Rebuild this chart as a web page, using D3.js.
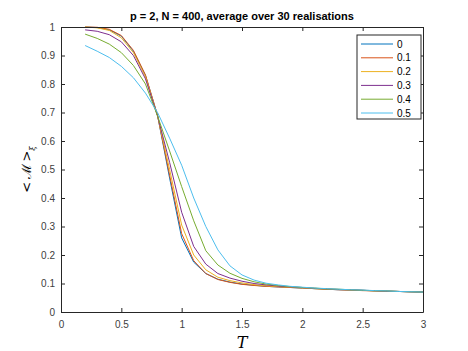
<!DOCTYPE html>
<html>
<head>
<meta charset="utf-8">
<script src="https://cdn.jsdelivr.net/npm/d3@7"></script>
<style>
  body { margin: 0; background: #fff; }
  text { font-family: "Liberation Sans", Arial, sans-serif; }
</style>
</head>
<body>
<div id="chart"></div>
<script>
// temperatures and averaged order parameter, one array per disorder level
var temps = [0.2, 0.3, 0.4, 0.5, 0.6, 0.7, 0.8, 0.9, 1.0, 1.1, 1.2, 1.3, 1.4, 1.5, 1.6, 1.7, 1.8, 1.9, 2.0, 2.1, 2.2, 2.3, 2.4, 2.5, 2.6, 2.7, 2.8, 2.9, 3.0]
var m00 = [1.000, 0.998, 0.990, 0.968, 0.915, 0.830, 0.690, 0.470, 0.260, 0.175, 0.135, 0.115, 0.105, 0.098, 0.094, 0.090, 0.088, 0.086, 0.084, 0.082, 0.080, 0.078, 0.077, 0.076, 0.074, 0.073, 0.072, 0.071, 0.070]
var m01 = [1.000, 0.999, 0.992, 0.970, 0.918, 0.832, 0.690, 0.480, 0.275, 0.180, 0.135, 0.114, 0.104, 0.097, 0.093, 0.090, 0.088, 0.086, 0.084, 0.082, 0.080, 0.078, 0.077, 0.075, 0.074, 0.073, 0.072, 0.071, 0.070]
var m02 = [1.000, 0.997, 0.988, 0.962, 0.910, 0.825, 0.688, 0.500, 0.305, 0.200, 0.148, 0.122, 0.110, 0.102, 0.096, 0.092, 0.089, 0.087, 0.085, 0.082, 0.080, 0.079, 0.077, 0.076, 0.074, 0.073, 0.072, 0.071, 0.070]
var m03 = [0.990, 0.985, 0.973, 0.948, 0.900, 0.818, 0.688, 0.525, 0.350, 0.230, 0.168, 0.135, 0.119, 0.108, 0.100, 0.095, 0.091, 0.088, 0.086, 0.083, 0.081, 0.079, 0.078, 0.076, 0.075, 0.073, 0.072, 0.071, 0.070]
var m04 = [0.975, 0.960, 0.940, 0.910, 0.865, 0.800, 0.688, 0.565, 0.440, 0.320, 0.215, 0.165, 0.136, 0.118, 0.106, 0.098, 0.093, 0.089, 0.086, 0.084, 0.081, 0.080, 0.078, 0.076, 0.075, 0.074, 0.072, 0.071, 0.070]
var m05 = [0.935, 0.915, 0.893, 0.862, 0.822, 0.768, 0.700, 0.610, 0.515, 0.400, 0.300, 0.218, 0.162, 0.130, 0.112, 0.101, 0.095, 0.090, 0.087, 0.084, 0.082, 0.080, 0.078, 0.077, 0.075, 0.074, 0.072, 0.071, 0.070]

var seriesNames = ["0", "0.1", "0.2", "0.3", "0.4", "0.5"]
var seriesValues = [m00, m01, m02, m03, m04, m05]
var colors = ["#0072BD", "#D95319", "#EDB120", "#7E2F8E", "#77AC30", "#4DBEEE"]

var xTicks = [0, 0.5, 1, 1.5, 2, 2.5, 3]
var yTicks = [0, 0.1, 0.2, 0.3, 0.4, 0.5, 0.6, 0.7, 0.8, 0.9, 1]

var W = 468, H = 351
var margin = { top: 27, right: 45, bottom: 39, left: 61 },
    width = W - margin.left - margin.right,
    height = H - margin.top - margin.bottom

var svg = d3.select("#chart")
    .append("svg")
    .attr("width", W)
    .attr("height", H)

var g = svg.append("g")
    .attr("transform", "translate(" + margin.left + "," + margin.top + ")")

var x = d3.scaleLinear().domain([0, 3]).range([0, width])
var y = d3.scaleLinear().domain([0, 1]).range([height, 0])

var axisColor = "#262626"
var tickLen = 4

// data lines
var line = d3.line()
    .x(function (d) { return x(d[0]) })
    .y(function (d) { return y(d[1]) })

seriesValues.forEach(function (vals, k) {
    g.append("path")
        .datum(temps.map(function (t, i) { return [t, vals[i]] }))
        .attr("fill", "none")
        .attr("stroke", colors[k])
        .attr("stroke-width", 1)
        .attr("d", line)
})

// axes (matlab style, ticks inside, box on)
function styleAxis(sel, showLabels) {
    sel.select(".domain").attr("stroke", axisColor)
    sel.selectAll(".tick line").attr("stroke", axisColor)
    sel.selectAll(".tick text")
        .attr("fill", "#404040")
        .style("font-size", "10px")
    if (!showLabels) sel.selectAll(".tick text").remove()
}

var xBottom = g.append("g")
    .attr("transform", "translate(0," + height + ")")
    .call(d3.axisBottom(x).tickValues(xTicks).tickSizeInner(-tickLen).tickSizeOuter(0).tickPadding(9).tickFormat(d3.format("")))
styleAxis(xBottom, true)

var xTop = g.append("g")
    .call(d3.axisTop(x).tickValues(xTicks).tickSizeInner(-tickLen).tickSizeOuter(0))
styleAxis(xTop, false)

var yLeft = g.append("g")
    .call(d3.axisLeft(y).tickValues(yTicks).tickSizeInner(-tickLen).tickSizeOuter(0).tickPadding(6).tickFormat(d3.format("")))
styleAxis(yLeft, true)

var yRight = g.append("g")
    .attr("transform", "translate(" + width + ",0)")
    .call(d3.axisRight(y).tickValues(yTicks).tickSizeInner(-tickLen).tickSizeOuter(0))
styleAxis(yRight, false)

// title
svg.append("text")
    .attr("x", margin.left + width / 2)
    .attr("y", 20)
    .attr("text-anchor", "middle")
    .attr("font-weight", "bold")
    .style("font-size", "11px")
    .attr("fill", "#000")
    .text("p = 2, N = 400, average over 30 realisations")

// x label
svg.append("text")
    .attr("x", margin.left + width / 2)
    .attr("y", 348)
    .attr("text-anchor", "middle")
    .style("font-family", "'DejaVu Serif', 'Liberation Serif', serif")
    .style("font-style", "italic")
    .style("font-size", "16px")
    .text("T")

// y label
var yl = svg.append("text")
    .attr("transform", "translate(31," + (margin.top + height / 2) + ") rotate(-90)")
    .attr("text-anchor", "middle")
    .style("font-family", "'DejaVu Serif', serif")
    .style("font-size", "13px")
    .attr("fill", "#000")
yl.append("tspan").text("<\u2009")
yl.append("tspan").text("\u2133")
yl.append("tspan").text("\u2009>")
yl.append("tspan").attr("dy", 4).style("font-size", "8px").style("font-style", "italic").text("\u03be")

// legend
var lg = svg.append("g").attr("transform", "translate(357,35)")
lg.append("rect")
    .attr("width", 64)
    .attr("height", 84)
    .attr("fill", "#fff")
    .attr("stroke", axisColor)
    .attr("stroke-width", 1)

seriesNames.forEach(function (name, k) {
    var ry = 9 + k * 13.8
    lg.append("line")
        .attr("x1", 4).attr("x2", 36)
        .attr("y1", ry).attr("y2", ry)
        .attr("stroke", colors[k])
        .attr("stroke-width", 1)
    lg.append("text")
        .attr("x", 40)
        .attr("y", ry + 3.5)
        .style("font-size", "10px")
        .attr("fill", "#000")
        .text(name)
})
</script>
</body>
</html>
